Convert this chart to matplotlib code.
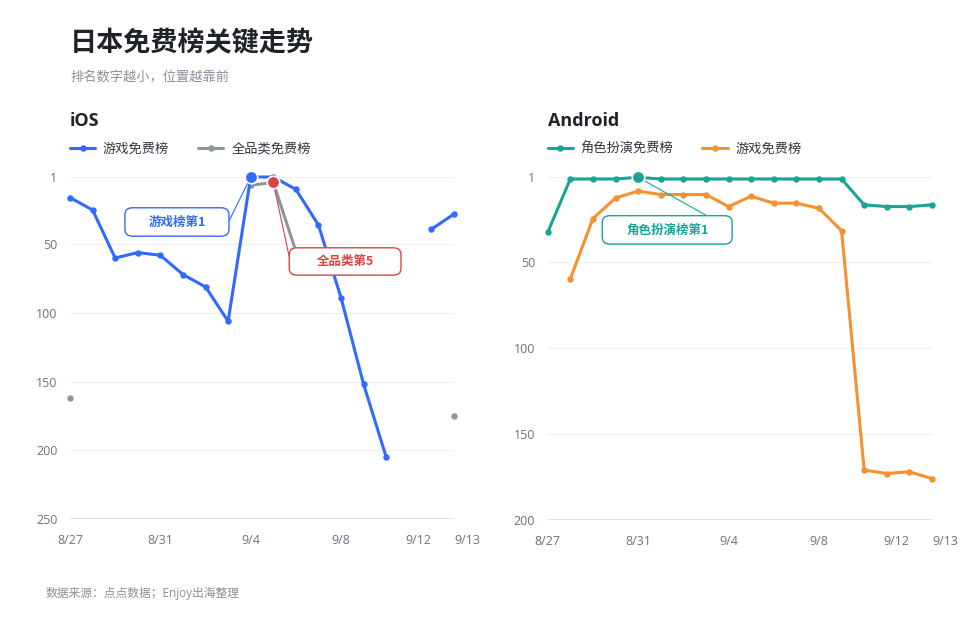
import numpy as np
import matplotlib
matplotlib.use('Agg')
import matplotlib.pyplot as plt
from matplotlib.patches import FancyBboxPatch

plt.rcParams['font.family'] = ['Open Sans', 'Noto Sans CJK SC', 'DejaVu Sans']

# Data: daily ranks (nan = not on the chart)
dates = ['8/27', '8/28', '8/29', '8/30', '8/31', '9/1', '9/2', '9/3', '9/4',
         '9/5', '9/6', '9/7', '9/8', '9/9', '9/10', '9/11', '9/12', '9/13']
nan = np.nan
ios_game = [16, 25, 60, 56, 58, 72, 81, 106, 1, 1, 10, 36, 89, 152, 205, nan, 39, 28]
ios_all = [162, nan, nan, nan, nan, nan, nan, nan, 7, 5, 55, nan, nan, nan, nan, nan, nan, 175]
and_rpg = [33, 2, 2, 2, 1, 2, 2, 2, 2, 2, 2, 2, 2, 2, 17, 18, 18, 17]
and_game = [nan, 60, 25, 13, 9, 11, 11, 11, 18, 12, 16, 16, 19, 32, 171, 173, 172, 176]
tick_idx = [0, 4, 8, 12, 16, 17]

BLUE = '#2f6bff'
GRAY = '#8d959f'
RED = '#d94545'
TEAL = '#17a596'
ORANGE = '#f5922f'
TXT = '#6b7280'
CJK = ['Noto Sans CJK SC', 'DejaVu Sans']

fig = plt.figure(figsize=(9.6, 6.2), dpi=100)
W, H = 960, 620


def make_ax(left, right, top, bottom):
    return fig.add_axes([left / W, 1 - bottom / H, (right - left) / W, (bottom - top) / H])


def style_ax(ax, yticks, ymax):
    x = np.arange(len(dates))
    ax.set_xlim(0, len(dates) - 1)
    ax.set_ylim(ymax, 1)
    ax.set_yticks(yticks)
    ax.set_yticklabels([str(t) for t in yticks])
    ax.set_xticks(tick_idx)
    ax.set_xticklabels([dates[i] for i in tick_idx])
    labels = ax.get_xticklabels()
    labels[-2].set_ha('right')
    labels[-1].set_ha('left')
    for s in ax.spines.values():
        s.set_visible(False)
    ax.tick_params(length=0, colors=TXT, labelsize=9)
    ax.tick_params(axis='y', pad=9)
    ax.tick_params(axis='x', pad=11)
    for t in yticks[:-1]:
        ax.axhline(t, color='#eef0f4', lw=0.9, zorder=0)
    ax.axhline(yticks[-1], color='#d8dbe1', lw=1.2, zorder=0)
    return x


def series(ax, x, y, color):
    line, = ax.plot(x, y, color=color, lw=2.2, marker='o', ms=3.6, clip_on=False,
                    zorder=3, solid_capstyle='round')
    return line


def callout(ax, box, text, color, xy, end):
    x0, y0, x1, y1 = box
    ax.annotate('', xy=xy, xytext=end, textcoords='axes fraction',
                arrowprops=dict(arrowstyle='-', color=color, lw=0.8,
                                shrinkA=0, shrinkB=0), zorder=5)
    p = FancyBboxPatch((x0, y0), x1 - x0, y1 - y0, transform=ax.transAxes,
                       boxstyle='round,pad=0,rounding_size=0.02',
                       fc='white', ec=color, lw=1.0, zorder=6, clip_on=False)
    ax.add_patch(p)
    ax.text((x0 + x1) / 2, (y0 + y1) / 2, text, transform=ax.transAxes,
            ha='center', va='center', color=color, fontsize=9, family=CJK,
            fontweight='bold', zorder=7)


# iOS panel
ax1 = make_ax(70, 454, 177, 519)
x = style_ax(ax1, [1, 50, 100, 150, 200, 250], 250)
l_all = series(ax1, x, ios_all, GRAY)
l_game = series(ax1, x, ios_game, BLUE)
ax1.plot(x[8], ios_game[8], 'o', color=BLUE, ms=9, mec='white', mew=1.2, zorder=8, clip_on=False)
ax1.plot(x[9], ios_all[9], 'o', color=RED, ms=9, mec='white', mew=1.2, zorder=8, clip_on=False)
callout(ax1, (0.143, 0.827, 0.414, 0.910), '游戏榜第1', BLUE,
        (x[8], ios_game[8]), (0.414, 0.871))
callout(ax1, (0.571, 0.713, 0.862, 0.793), '全品类第5', RED,
        (x[9], ios_all[9]), (0.571, 0.766))

# Android panel
ax2 = make_ax(547.7, 932, 177.3, 520)
x = style_ax(ax2, [1, 50, 100, 150, 200], 200)
l_agame = series(ax2, x, and_game, ORANGE)
l_rpg = series(ax2, x, and_rpg, TEAL)
ax2.plot(x[4], and_rpg[4], 'o', color=TEAL, ms=9, mec='white', mew=1.2, zorder=8, clip_on=False)
callout(ax2, (0.142, 0.805, 0.480, 0.888), '角色扮演榜第1', TEAL,
        (x[4], and_rpg[4]), (0.414, 0.888))

# legends
leg_kw = dict(loc='center left', frameon=False, ncol=2,
              prop=dict(family=CJK, size=9.5),
              handlelength=1.9, handletextpad=0.6, columnspacing=2.2,
              borderaxespad=0, borderpad=0, labelcolor='#333740')
ax1.legend([l_game, l_all], ['游戏免费榜', '全品类免费榜'],
           bbox_to_anchor=(70 / W, 1 - 149 / H),
           bbox_transform=fig.transFigure, **leg_kw)
ax2.legend([l_rpg, l_agame], ['角色扮演免费榜', '游戏免费榜'],
           bbox_to_anchor=(547.7 / W, 1 - 149 / H),
           bbox_transform=fig.transFigure, **leg_kw)

# titles
fig.text(70 / W, 1 - 43 / H, '日本免费榜关键走势', fontsize=19.5, fontweight='bold',
         color='#1f2329', va='center', ha='left', family=CJK)
fig.text(70 / W, 1 - 77 / H, '排名数字越小，位置越靠前', fontsize=9.5, family=CJK,
         color='#8a9099', va='center', ha='left')
fig.text(70 / W, 1 - 121 / H, 'iOS', fontsize=13, fontweight='bold',
         color='#1f2329', va='center', ha='left')
fig.text(547.7 / W, 1 - 121 / H, 'Android', fontsize=13, fontweight='bold',
         color='#1f2329', va='center', ha='left')
fig.text(46 / W, 1 - 593 / H, '数据来源：点点数据；Enjoy出海整理', fontsize=8.5,
         color='#8a9099', va='center', ha='left')

fig.savefig('out.png', dpi=100)
